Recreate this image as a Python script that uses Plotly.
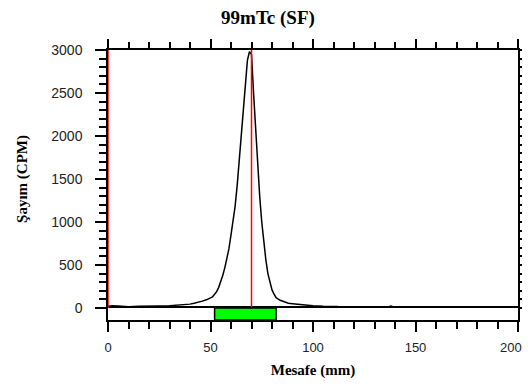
import plotly.graph_objects as go

# ---- data ----
distance_mm = [0, 2, 5, 10, 15, 20, 25, 30, 33, 35, 38, 40, 42, 44, 46, 48, 50, 51, 52, 53,
               54, 55, 56, 57, 58, 59, 60, 61, 62, 63, 64, 65, 66, 67, 68, 69, 70, 71, 72,
               73, 74, 75, 76, 77, 78, 79, 80, 81, 82, 84, 86, 88, 90, 93, 96, 100, 105,
               110, 112, 115, 130, 136, 138, 140, 150, 170, 200]
counts_cpm = [20, 25, 22, 15, 20, 18, 22, 25, 30, 28, 40, 45, 55, 65, 80, 95, 115, 130, 160,
              190, 240, 300, 380, 470, 570, 690, 850, 990, 1180, 1420, 1700, 2000, 2300,
              2580, 2880, 2980, 2950, 2500, 2050, 1650, 1300, 1000, 760, 560, 400, 290, 210,
              160, 120, 90, 70, 55, 50, 40, 30, 25, 20, 15, 18, 3, 3, 5, 22, 5, 2, 2, 2]
marker_lines_mm = [0, 70]
peak_region_mm = [52, 82]
x_range = [0, 200]
y_range = [0, 3000]
x_tickvals = [0, 50, 100, 150, 200]
x_ticktext = ["0", "50", "100", "150", "200\u2007\u2007"]
y_tickvals = [0, 500, 1000, 1500, 2000, 2500, 3000]
y_ticktext = ["0", "500", "1000", "1500", "2000", "2500", "3000"]

title_text = "99mTc (SF)"
x_title = "Mesafe (mm)"
y_title = "Şayım (CPM)"

fig = go.Figure()
fig.add_trace(go.Scatter(x=distance_mm, y=counts_cpm, mode="lines",
                         line=dict(color="black", width=1.5), xaxis="x", yaxis="y",
                         showlegend=False, hoverinfo="skip"))
# invisible trace to anchor strip subplot
fig.add_trace(go.Scatter(x=x_range, y=[0, 1], mode="markers", marker=dict(opacity=0),
                         xaxis="x2", yaxis="y2", showlegend=False, hoverinfo="skip"))

shapes = []
for m in marker_lines_mm:
    shapes.append(dict(type="line", xref="x", yref="y", x0=m, x1=m, y0=y_range[0], y1=y_range[1],
                       line=dict(color="red", width=1.5), layer="above"))
shapes.append(dict(type="rect", xref="x2", yref="y2 domain", x0=peak_region_mm[0], x1=peak_region_mm[1],
                   y0=0, y1=1, fillcolor="#00ff00", line=dict(color="black", width=1.5), layer="above"))

tick_font = dict(family="Liberation Sans, Arial, sans-serif", size=14, color="#222")
serif_bold = "Liberation Serif, Times New Roman, serif"
split = 12 / 270

fig.update_layout(
    width=522, height=379,
    margin=dict(l=100, r=12, t=42, b=67, autoexpand=False),
    paper_bgcolor="white", plot_bgcolor="white",
    title=dict(text="<b>" + title_text + "</b>", x=0.498, xanchor="center", y=0.976, yanchor="middle",
               font=dict(family=serif_bold, size=19, color="black"), automargin=False),
    xaxis=dict(domain=[0, 1], range=x_range, anchor="y", side="top", showticklabels=False,
               automargin=False,
               showline=True, linecolor="black", linewidth=1.5, showgrid=False, zeroline=False,
               ticks="outside", ticklen=9, tickwidth=1.5, tickcolor="black", dtick=50, tick0=0,
               minor=dict(ticks="outside", ticklen=6, tickwidth=1.5, tickcolor="black", dtick=10)),
    yaxis=dict(domain=[split, 1], range=y_range, anchor="x", automargin=False,
               showline=True, linecolor="black", linewidth=1.5, mirror="ticks", showgrid=False,
               zeroline=False, ticks="outside", ticklen=11, tickwidth=1.5, tickcolor="black",
               tickmode="array", tickvals=y_tickvals, ticktext=y_ticktext,
               tickfont=tick_font, ticklabelstandoff=10,
               minor=dict(ticks="outside", ticklen=7, tickwidth=1.5, tickcolor="black", dtick=100,
                          tick0=0),
               title=dict(text="<b>" + y_title + "</b>", standoff=20,
                          font=dict(family=serif_bold, size=15, color="black"))),
    xaxis2=dict(domain=[0, 1], range=x_range, anchor="y2", side="bottom", automargin=False,
                showline=True, linecolor="black", linewidth=1.5, mirror=True, showgrid=False,
                zeroline=False, ticks="outside", ticklen=10, tickwidth=1.5, tickcolor="black",
                tickmode="array", tickvals=x_tickvals, ticktext=x_ticktext,
                tickfont=dict(family="Liberation Sans, Arial, sans-serif", size=13, color="#222"),
                ticklabelstandoff=5, ticklabeloverflow="allow",
                minor=dict(ticks="outside", ticklen=7, tickwidth=1.5, tickcolor="black", dtick=10,
                           tick0=0),
                title=dict(text="<b>" + x_title + "</b>", standoff=10,
                           font=dict(family=serif_bold, size=15, color="black"))),
    yaxis2=dict(domain=[0, split], range=[0, 1], anchor="x2", showline=True, linecolor="black",
                linewidth=1.5, mirror=True, showgrid=False, zeroline=False, ticks="",
                showticklabels=False, automargin=False),
    shapes=shapes,
)

fig.write_html("out.html")
